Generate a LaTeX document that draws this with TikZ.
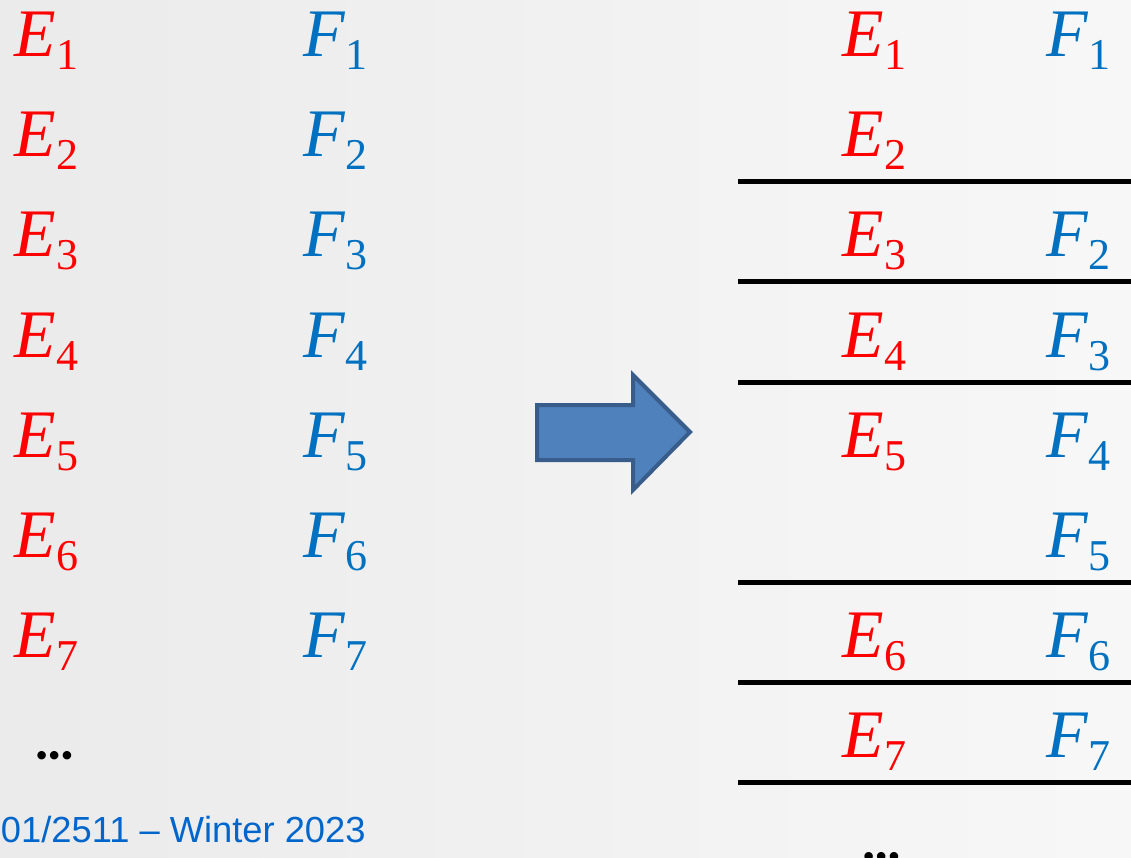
\documentclass[tikz,border=0pt]{standalone}
\usepackage{fontspec}
\setmainfont{Liberation Serif}
\newfontfamily\labelfont{Liberation Sans}
\newfontfamily\dotfont{Carlito}
\definecolor{ered}{RGB}{255,0,0}
\definecolor{fblue}{RGB}{0,112,192}
\definecolor{foot}{RGB}{0,102,204}
\definecolor{arrfill}{RGB}{79,129,189}
\definecolor{arrline}{RGB}{56,93,138}
\newcommand\symb[3]{{\color{#1}\fontsize{68}{68}\selectfont\itshape #2}\kern1pt\raisebox{-13pt}{\color{#1}\fontsize{44}{44}\selectfont #3}}
\tikzset{
  lab/.style={anchor=base west, inner sep=0pt, outer sep=0pt},
  sepline/.style={line width=5pt, black},
  dots/.style={anchor=center, inner sep=0pt, font=\dotfont\bfseries\fontsize{57}{57}\selectfont}
}
\begin{document}
\begin{tikzpicture}[x=1pt,y=-1pt]
\shade[left color=black!8, right color=black!3] (0,0) rectangle (1131,858);
\useasboundingbox (0,0) rectangle (1131,858);
% left columns
\foreach \k in {1,...,7}{
  \node[lab] (le\k) at (14,{57+100*(\k-1)}) {\symb{ered}{E}{\k}};
  \node[lab] (lf\k) at (303,{57+100*(\k-1)}) {\symb{fblue}{F}{\k}};
}
\node[dots] (ldots) at (55,756) {…};
\node[lab, font=\labelfont\fontsize{36.3}{36.3}\selectfont, text=foot] (foot) at (1,842) {01/2511 – Winter 2023};
% arrow
\draw[line width=4pt, line join=miter, draw=arrline, fill=arrfill]
  (537,405) -- (633,405) -- (633,375) -- (690,432) -- (633,490) -- (633,460) -- (537,460) -- cycle;
% right side
\node[lab] (re1) at (842,57) {\symb{ered}{E}{1}};
\node[lab] (rf1) at (1046,57) {\symb{fblue}{F}{1}};
\node[lab] (re2) at (842,157) {\symb{ered}{E}{2}};
\node[lab] (re3) at (842,257) {\symb{ered}{E}{3}};
\node[lab] (rf2) at (1046,257) {\symb{fblue}{F}{2}};
\node[lab] (re4) at (842,357) {\symb{ered}{E}{4}};
\node[lab] (rf3) at (1046,357) {\symb{fblue}{F}{3}};
\node[lab] (re5) at (842,457) {\symb{ered}{E}{5}};
\node[lab] (rf4) at (1046,457) {\symb{fblue}{F}{4}};
\node[lab] (rf5) at (1046,557) {\symb{fblue}{F}{5}};
\node[lab] (re6) at (842,657) {\symb{ered}{E}{6}};
\node[lab] (rf6) at (1046,657) {\symb{fblue}{F}{6}};
\node[lab] (re7) at (842,757) {\symb{ered}{E}{7}};
\node[lab] (rf7) at (1046,757) {\symb{fblue}{F}{7}};
\foreach \yy in {182,282,382,582,682,782}{
  \draw[sepline] (738,\yy) -- (1131,\yy);
}
\node[dots] (rdots) at (882,857) {…};
\end{tikzpicture}
\end{document}
